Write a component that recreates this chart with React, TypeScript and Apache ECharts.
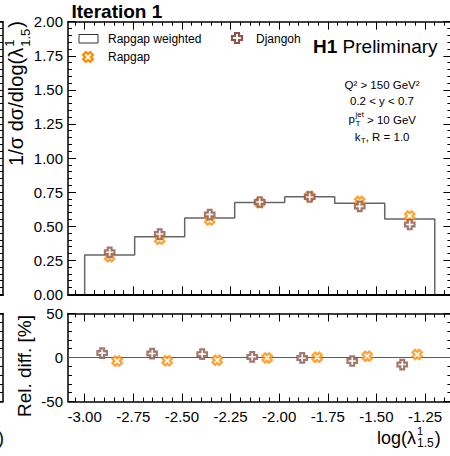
import React, { useEffect, useRef } from "react";
import * as echarts from "echarts";

// ---------------- data ----------------
const BIN_EDGES = [-3.0, -2.7429, -2.4857, -2.2286, -1.9714, -1.7143, -1.4571, -1.2];
const RAPGAP_WEIGHTED = [0.288, 0.423, 0.56, 0.673, 0.716, 0.668, 0.552];
const RAPGAP = [0.276, 0.404, 0.545, 0.672, 0.72, 0.682, 0.575];
const DJANGOH = [0.308, 0.442, 0.585, 0.677, 0.714, 0.645, 0.512];
const RAPGAP_REL = [-4, -3.8, -3, -0.5, 0.3, 1.5, 3.4];
const DJANGOH_REL = [5, 4.5, 3.8, 0.7, -0.5, -4, -8];
const X_TICKS = [-3.0, -2.75, -2.5, -2.25, -2.0, -1.75, -1.5, -1.25];
const X_MIN = -3.0857;
const X_MAX = -1.1143;
const Y_MAIN = { min: 0, max: 2, interval: 0.25 };
const Y_RATIO = { min: -50, max: 50, interval: 50 };

// ---------------- style ----------------
const FONT = '"Liberation Sans", Arial, Helvetica, sans-serif';
const ORANGE = "#ff8c00";
const BROWN = "#8c564b";
const RED = "#d62728";
const HIST = "#666666";
const PLUS_D = "M-2,-5L2,-5L2,-2L5,-2L5,2L2,2L2,5L-2,5L-2,2L-5,2L-5,-2L-2,-2Z";
const PLUS_SYMBOL = "path://" + PLUS_D;

let registered = false;
function registerShapes() {
  if (registered) return;
  registered = true;
  echarts.graphic.registerShape("plusMark", echarts.graphic.extendPath(PLUS_D, {}));
}

function measure(text: string, size: number, weight = "normal") {
  const c = document.createElement("canvas").getContext("2d");
  if (!c) return text.length * size * 0.55;
  c.font = `${weight} ${size}px ${FONT}`;
  return c.measureText(text).width;
}

const MINOR_X: number[] = [];
for (let i = -62; i <= -22; i++) {
  const v = i * 0.05;
  if (Math.abs(v / 0.25 - Math.round(v / 0.25)) > 1e-6) MINOR_X.push(Number(v.toFixed(2)));
}

function xAxis(
  gridIndex: number,
  position: "top" | "bottom",
  ticks: number[] | null,
  tickLen: number,
  lineWidth: number,
  labels: boolean,
  min = X_MIN,
  max = X_MAX
) {
  return {
    type: "value",
    gridIndex,
    position,
    min,
    max,
    axisLine: { show: lineWidth > 0, onZero: false, lineStyle: { color: "#000", width: lineWidth || 1 } },
    axisTick: {
      show: !!ticks,
      inside: true,
      length: tickLen,
      customValues: ticks || [],
      lineStyle: { color: "#000", width: 1 },
    },
    axisLabel: {
      show: labels,
      customValues: ticks || [],
      formatter: (v: number) => v.toFixed(2),
      color: "#000",
      fontSize: 15,
      fontFamily: FONT,
      margin: 7,
    },
    splitLine: { show: false },
    minorTick: { show: false },
  };
}

function yAxis(gridIndex: number, position: "left" | "right", rng: any, labels: boolean, fmt: (v: number) => string) {
  return {
    type: "value",
    gridIndex,
    position,
    min: rng.min,
    max: rng.max,
    interval: rng.interval,
    axisLine: { show: true, onZero: false, lineStyle: { color: "#000", width: 1.5 } },
    axisTick: { show: true, inside: true, length: 8, lineStyle: { color: "#000", width: 1 } },
    minorTick: { show: true, splitNumber: 5, length: 4, lineStyle: { color: "#000", width: 1 } },
    axisLabel: { show: labels, formatter: fmt, color: "#000", fontSize: 15, fontFamily: FONT, margin: 5 },
    splitLine: { show: false },
    minorSplitLine: { show: false },
  };
}

function buildOption() {
  const centers = RAPGAP_WEIGHTED.map((_, i) => (BIN_EDGES[i] + BIN_EDGES[i + 1]) / 2);
  const widths = RAPGAP_WEIGHTED.map((_, i) => BIN_EDGES[i + 1] - BIN_EDGES[i]);
  const hist: number[][] = [[BIN_EDGES[0], 0]];
  RAPGAP_WEIGHTED.forEach((h, i) => {
    hist.push([BIN_EDGES[i], h]);
    hist.push([BIN_EDGES[i + 1], h]);
  });
  hist.push([BIN_EDGES[BIN_EDGES.length - 1], 0]);

  const markerStyle = (c: string) => ({ color: "#fff", borderColor: c, borderWidth: 2.2 });

  const txt = (text: string, x: number, y: number, size: number, extra: any = {}) => ({
    type: "text",
    x,
    y,
    silent: true,
    style: {
      text,
      fontSize: size,
      fontFamily: FONT,
      fill: "#000",
      align: "left",
      verticalAlign: "middle",
      ...extra,
    },
  });

  // y axis title (rotated)
  const yMain = "1/σ dσ/dlog(λ";
  const wY1 = measure(yMain, 20);
  const wYsub = measure("1.5", 13);
  const wYclose = measure(")", 20);
  const yTot = wY1 + 1 + wYsub + 1 + wYclose;
  const yTitle = {
    type: "group",
    x: 23,
    y: 93.5 + yTot / 2,
    rotation: Math.PI / 2,
    children: [
      txt(yMain, 0, -7, 20),
      txt("1", wY1 + 1, -14, 13),
      txt("1.5", wY1 + 1, 2, 13),
      txt(")", wY1 + 1 + wYsub + 1, -7, 20),
    ],
  };

  // x axis title
  const wLog = measure("log(λ", 18);
  const wXsub = measure("1.5", 12);
  const xTitle = [
    txt("log(λ", 377, 438, 18),
    txt("1", 377 + wLog + 1, 431, 11),
    txt("1.5", 377 + wLog + 1, 443, 12),
    txt(")", 377 + wLog + 2 + wXsub, 438, 18),
  ];

  // annotations
  const cx = 382;
  const wp = measure("p", 11.5);
  const wjet = measure("jet", 8);
  const wrest3 = measure(" > 10 GeV", 11.5);
  const s3 = cx - (wp + wjet + wrest3) / 2;
  const wk = measure("k", 11.5);
  const wT = measure("T", 8);
  const wrest4 = measure(", R = 1.0", 11.5);
  const s4 = cx - (wk + wT + wrest4) / 2;

  const wH1 = measure("H1 ", 19, "bold");

  const graphic: any[] = [
    txt("Iteration 1", 71.5, 11.7, 19, { fontWeight: "bold" }),
    // legend
    {
      type: "rect",
      shape: { x: 79, y: 34.5, width: 19, height: 8.5 },
      style: { fill: "none", stroke: "#333", lineWidth: 1 },
      silent: true,
    },
    txt("Rapgap weighted", 108, 38.5, 12),
    {
      type: "plusMark",
      x: 88,
      y: 57,
      rotation: Math.PI / 4,
      style: { fill: "#fff", stroke: ORANGE, lineWidth: 2.2 },
      silent: true,
    },
    txt("Rapgap", 108, 57, 12),
    {
      type: "plusMark",
      x: 237,
      y: 38,
      style: { fill: "#fff", stroke: BROWN, lineWidth: 2.2 },
      silent: true,
    },
    txt("Djangoh", 256, 38.5, 12),
    // H1 Preliminary
    txt("H1", 313, 46.5, 19, { fontWeight: "bold" }),
    txt("Preliminary", 313 + wH1, 46.5, 19),
    // cuts
    txt("Q² > 150 GeV²", cx, 85, 11.5, { align: "center" }),
    txt("0.2 < y < 0.7", cx, 101, 11.5, { align: "center" }),
    txt("p", s3, 119, 11.5),
    txt("jet", s3 + wp + 0.5, 114, 8),
    txt("T", s3 + wp + 0.5, 123.5, 8),
    txt(" > 10 GeV", s3 + wp + wjet + 0.5, 120, 11.5),
    txt("k", s4, 137, 11.5),
    txt("T", s4 + wk + 0.3, 140, 8),
    txt(", R = 1.0", s4 + wk + wT + 0.3, 137, 11.5),
    // axis titles
    yTitle,
    {
      type: "text",
      x: 24.5,
      y: 366,
      rotation: Math.PI / 2,
      silent: true,
      style: {
        text: "Rel. diff. [%]",
        fontSize: 19,
        fontFamily: FONT,
        fill: "#000",
        align: "center",
        verticalAlign: "middle",
      },
    },
    ...xTitle,
    // neighbouring panel fragment
    txt(")", -2, 438, 18),
  ];

  const gridBase = { outerBoundsMode: "none", containLabel: false };

  return {
    animation: false,
    backgroundColor: "#fff",
    textStyle: { fontFamily: FONT },
    grid: [
      { ...gridBase, left: 68, top: 21.7, width: 383.4, height: 272.6 },
      { ...gridBase, left: 68, top: 313.5, width: 383.4, height: 88 },
      { ...gridBase, left: -300, top: 21.7, width: 303, height: 272.6 },
      { ...gridBase, left: -300, top: 313.5, width: 303, height: 88 },
    ],
    xAxis: [
      xAxis(0, "bottom", X_TICKS, 8, 2, false),
      xAxis(0, "bottom", MINOR_X, 4, 0, false),
      xAxis(0, "top", X_TICKS, 8, 1.5, false),
      xAxis(0, "top", MINOR_X, 4, 0, false),
      xAxis(1, "bottom", X_TICKS, 8, 1.5, true),
      xAxis(1, "bottom", MINOR_X, 4, 0, false),
      xAxis(1, "top", X_TICKS, 8, 1.5, false),
      xAxis(1, "top", MINOR_X, 4, 0, false),
      xAxis(2, "bottom", null, 0, 2, false, 0, 1),
      xAxis(2, "top", null, 0, 1.5, false, 0, 1),
      xAxis(3, "bottom", null, 0, 1.5, false, 0, 1),
      xAxis(3, "top", null, 0, 1.5, false, 0, 1),
    ],
    yAxis: [
      yAxis(0, "left", Y_MAIN, true, (v) => v.toFixed(2)),
      yAxis(0, "right", Y_MAIN, false, (v) => v.toFixed(2)),
      yAxis(1, "left", Y_RATIO, true, (v) => String(v)),
      yAxis(1, "right", Y_RATIO, false, (v) => String(v)),
      yAxis(2, "right", Y_MAIN, false, (v) => v.toFixed(2)),
      yAxis(3, "right", Y_RATIO, false, (v) => String(v)),
    ],
    series: [
      {
        name: "Rapgap weighted",
        type: "line",
        xAxisIndex: 0,
        yAxisIndex: 0,
        data: hist,
        symbol: "none",
        lineStyle: { color: HIST, width: 1.5 },
        z: 2,
      },
      {
        name: "Rapgap",
        type: "scatter",
        xAxisIndex: 0,
        yAxisIndex: 0,
        data: RAPGAP.map((v, i) => [centers[i], v]),
        symbol: PLUS_SYMBOL,
        symbolSize: 9.5,
        symbolRotate: 45,
        itemStyle: markerStyle(ORANGE),
        z: 3,
      },
      {
        name: "Djangoh",
        type: "scatter",
        xAxisIndex: 0,
        yAxisIndex: 0,
        data: DJANGOH.map((v, i) => [centers[i], v]),
        symbol: PLUS_SYMBOL,
        symbolSize: 9.5,
        itemStyle: markerStyle(BROWN),
        z: 4,
      },
      {
        name: "zero",
        type: "line",
        xAxisIndex: 4,
        yAxisIndex: 2,
        data: [
          [X_MIN, 0],
          [X_MAX, 0],
        ],
        symbol: "none",
        lineStyle: { color: RED, width: 1.2 },
        z: 1,
      },
      {
        name: "Djangoh rel",
        type: "scatter",
        xAxisIndex: 4,
        yAxisIndex: 2,
        data: DJANGOH_REL.map((v, i) => [centers[i] - 0.15 * widths[i], v]),
        symbol: PLUS_SYMBOL,
        symbolSize: 9.5,
        itemStyle: markerStyle(BROWN),
        z: 4,
      },
      {
        name: "Rapgap rel",
        type: "scatter",
        xAxisIndex: 4,
        yAxisIndex: 2,
        data: RAPGAP_REL.map((v, i) => [centers[i] + 0.15 * widths[i], v]),
        symbol: PLUS_SYMBOL,
        symbolSize: 9.5,
        symbolRotate: 45,
        itemStyle: markerStyle(ORANGE),
        z: 3,
      },
      {
        name: "fragment zero",
        type: "line",
        xAxisIndex: 10,
        yAxisIndex: 5,
        data: [
          [0, 0],
          [1, 0],
        ],
        symbol: "none",
        lineStyle: { color: RED, width: 1.2 },
      },
    ],
    graphic,
  };
}

export default function App() {
  const ref = useRef<HTMLDivElement>(null);
  useEffect(() => {
    if (!ref.current) return;
    registerShapes();
    const chart = echarts.init(ref.current, null, { renderer: "svg" });
    chart.setOption(buildOption() as any);
    return () => chart.dispose();
  }, []);
  return (
    <div
      ref={ref}
      style={{ position: "fixed", left: 0, top: 0, width: 450, height: 456, background: "#fff" }}
    />
  );
}
